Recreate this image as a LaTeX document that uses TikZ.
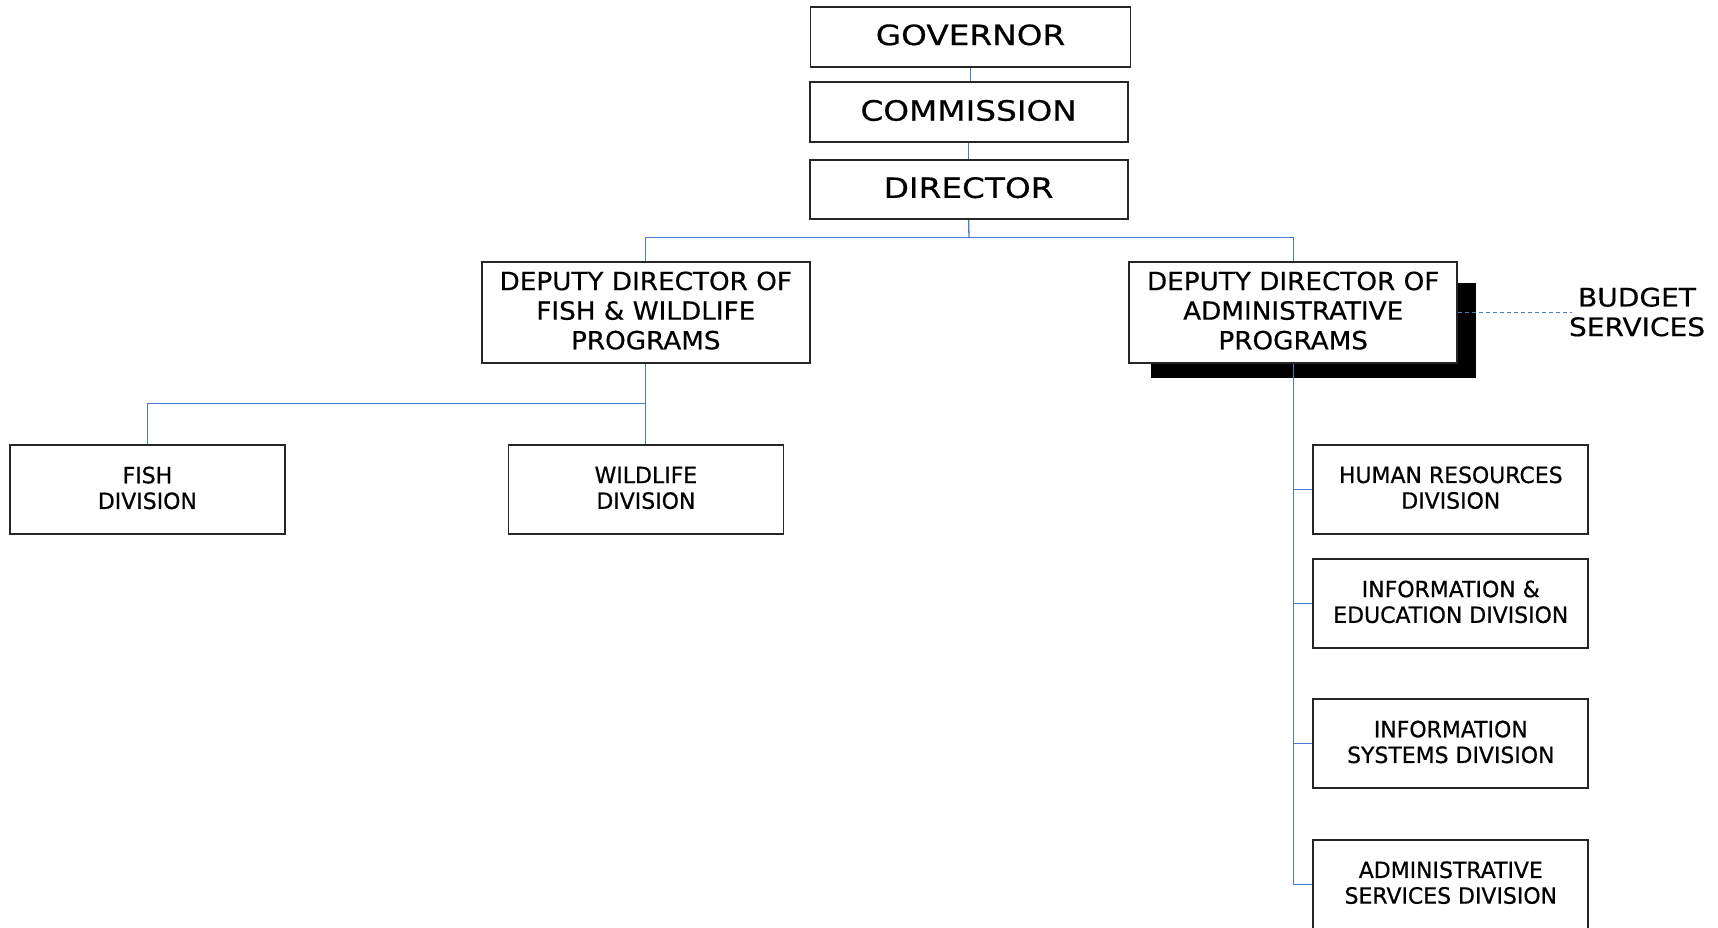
\documentclass[tikz,border=0pt]{standalone}
\usepackage{fontspec}
\setmainfont{DejaVu Sans}
\newfontfamily\topfont[FakeStretch=1.17,FakeBold=0.5]{DejaVu Sans}
\newfontfamily\depfont[FakeStretch=1.05,FakeBold=0.5]{DejaVu Sans}
\newfontfamily\divfont[FakeStretch=0.98,FakeBold=0.6]{DejaVu Sans}
\newfontfamily\budfont[FakeStretch=1.1,FakeBold=0.5]{DejaVu Sans}
\definecolor{connblue}{HTML}{4A7BC8}
\begin{document}
\begin{tikzpicture}[x=1pt,y=-1pt,
  box/.style={draw=black!85,line width=1.8pt,fill=white,rectangle,inner sep=0pt,align=center,text=black,text depth=4pt},
  topbox/.style={box,minimum width=318pt,minimum height=59pt,font=\topfont\fontsize{28}{33}\selectfont},
  depbox/.style={box,minimum width=328pt,minimum height=101pt,font=\depfont\fontsize{25}{29.6}\selectfont},
  divbox/.style={box,minimum width=275pt,minimum height=89pt,font=\divfont\fontsize{22.4}{25.7}\selectfont},
  conn/.style={draw=connblue,line width=1.3pt},
  dashconn/.style={draw=connblue,line width=1pt,dash pattern=on 4pt off 3pt}]
\useasboundingbox (0,0) rectangle (1718,927);
\fill[white] (0,0) rectangle (1718,927);

% shadow
\fill[black] (1151,283) rectangle (1476,378);

\node[topbox,minimum width=320pt,minimum height=60pt] (gov) at (970.5,36.7) {GOVERNOR};
\node[topbox,minimum height=60pt] (com) at (968.6,112.3) {COMMISSION};
\node[topbox] (dir) at (968.6,189.5) {DIRECTOR};

\node[depbox] (ddf) at (645.8,312.4) {DEPUTY DIRECTOR OF\\FISH \& WILDLIFE\\PROGRAMS};
\node[depbox] (dda) at (1293.2,312.4) {DEPUTY DIRECTOR OF\\ADMINISTRATIVE\\PROGRAMS};

\node[font=\budfont\fontsize{25.5}{29.6}\selectfont,align=center,inner sep=0pt] (bud) at (1637,312) {BUDGET\\SERVICES};

\node[divbox] (fish) at (147.4,489.8) {FISH\\DIVISION};
\node[divbox] (wild) at (645.9,489.8) {WILDLIFE\\DIVISION};

\node[divbox] (hr) at (1450.8,489.5) {HUMAN RESOURCES\\DIVISION};
\node[divbox] (ie) at (1450.8,603.7) {INFORMATION \&\\EDUCATION DIVISION};
\node[divbox] (is) at (1450.8,743.8) {INFORMATION\\SYSTEMS DIVISION};
\node[divbox] (asd) at (1450.8,884.5) {ADMINISTRATIVE\\SERVICES DIVISION};

\coordinate (busT) at (969,237.7);
\coordinate (busL) at (645.8,403.2);
\coordinate (budEnd) at (1572,312.4);

\draw[conn] (gov.south) -- (gov.south |- com.north);
\draw[conn] (com.south) -- (com.south |- dir.north);
\draw[conn] (dir.south) -- (busT);
\draw[conn] (ddf.north) |- (busT) -| (dda.north);
\draw[conn] (ddf.south) -- (ddf.south |- wild.north);
\draw[conn] (busL) -| (fish.north);
\draw[dashconn] (dda.east) -- (budEnd);
\draw[conn] (dda.south) |- (asd.west);
\draw[conn] (dda.south |- hr.west) -- (hr.west);
\draw[conn] (dda.south |- ie.west) -- (ie.west);
\draw[conn] (dda.south |- is.west) -- (is.west);
\end{tikzpicture}
\end{document}
